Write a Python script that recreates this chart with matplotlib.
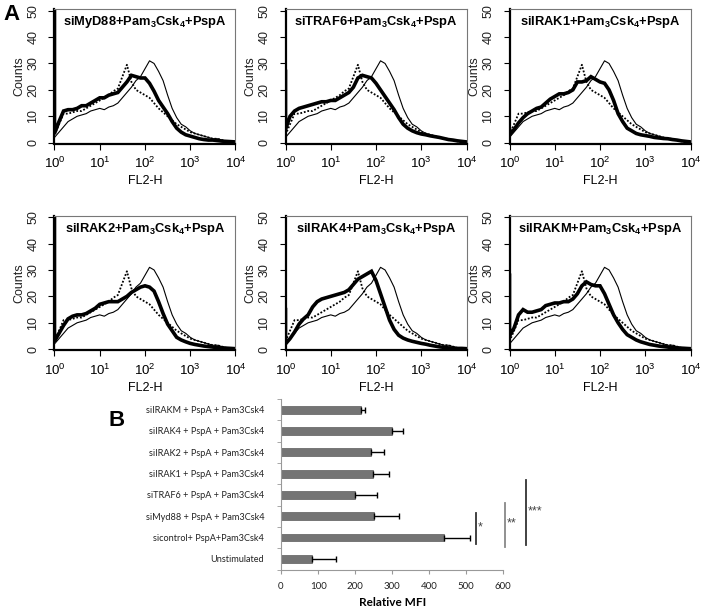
import numpy as np
import matplotlib
matplotlib.use("Agg")
import matplotlib.pyplot as plt

plt.rcParams['font.family'] = ['Liberation Sans', 'DejaVu Sans']
plt.rcParams['mathtext.fontset'] = 'custom'
plt.rcParams['mathtext.rm'] = 'Liberation Sans:bold'
plt.rcParams['mathtext.default'] = 'rm'

# ---- panel A: flow histograms (counts vs FL2-H, bins every 0.1 decade) ----
log_bins = np.round(np.arange(0, 4.01, 0.1), 1)

control_thin = [2, 4, 6, 8, 9, 10, 10.5, 11, 12, 12.5, 13, 12.5, 13.5, 14, 15, 17, 19, 21,
                23.5, 25, 28, 31, 30, 27, 23.5, 18, 13, 9.5, 7, 6, 4.5, 3.5, 3, 2.5, 2,
                1.5, 1.5, 1, 0.5, 0.5, 0]
control_dot = [3, 7, 11, 11, 11.5, 12, 12, 13, 14, 15, 16, 17, 18, 19.5, 20.5, 25, 29.5,
               23, 20, 19, 18, 17, 15, 13, 11.5, 10, 8.5, 7, 6, 5, 4, 3.5, 3, 2.5, 2,
               1.5, 1.5, 1, 0.5, 0.5, 0]

titles = ['siMyD88', 'siTRAF6', 'siIRAK1', 'siIRAK2', 'siIRAK4', 'siIRAKM']
first_bin = [60, 27, 5, 60, 15, 28]
thick = [
    [3.5, 8, 12, 12.5, 12.5, 13, 14, 14, 15, 16, 17, 17, 18, 18.5, 19, 21, 23, 25.5, 25,
     24.5, 24.5, 22.5, 19.5, 16, 13.5, 11, 8, 5.5, 4, 3, 2.5, 2, 1.5, 1.2, 1, 1, 0.8,
     0.6, 0.5, 0.4, 0.3],
    [5, 10, 12, 13, 13.5, 14, 14.5, 15, 15.5, 15.5, 16, 16, 17, 18, 19, 21, 24.5, 25.5,
     25, 24.5, 22.5, 20, 17.5, 15, 12.5, 9.5, 7, 5.5, 4.5, 3.8, 3.3, 3, 2.6, 2.3, 2,
     1.6, 1.2, 1, 0.7, 0.5, 0.3],
    [3, 5, 7.5, 9.5, 11, 12, 13, 13.5, 15, 16.5, 17.5, 18.5, 18.5, 19, 20, 23, 23, 23.5,
     25, 24, 23, 22.5, 20, 16, 11, 8, 5.5, 4.5, 3.5, 3, 2.7, 2.4, 2, 1.8, 1.6, 1.5,
     1.2, 1, 0.7, 0.5, 0.3],
    [3, 6, 9, 11.5, 12.5, 13, 13, 13.5, 14.5, 15.5, 17, 17.5, 18, 18, 18, 19, 20, 21.5,
     22.5, 23.5, 24, 23.5, 22, 18, 13.5, 9.5, 7, 4.5, 3.5, 2.8, 2.2, 1.8, 1.5, 1.2, 1,
     0.8, 0.6, 0.5, 0.4, 0.3, 0.2],
    [2, 4, 6.5, 9.5, 11.5, 13, 16, 18, 19, 19.5, 20, 20.5, 21, 21.5, 22.5, 24.5, 26.5,
     27.5, 28.5, 29.5, 26, 21, 16, 11, 7.5, 5.3, 4.2, 3.5, 3, 2.6, 2.2, 1.9, 1.5, 1.2,
     0.9, 0.7, 0.5, 0.4, 0.3, 0.3, 0.2],
    [5, 8, 13, 15, 14, 14, 14.5, 15, 16.5, 17, 17.5, 17.5, 18, 18, 19, 21, 24, 25.5,
     24.5, 24, 24, 21, 17, 13, 10, 7.5, 5.5, 4.5, 3.5, 2.8, 2.3, 1.8, 1.5, 1.2, 1, 0.8,
     0.6, 0.5, 0.4, 0.3, 0.2],
]

# ---- panel B: relative MFI bars ----
groups = ['Unstimulated', 'sicontrol+ PspA+Pam3Csk4', 'siMyd88 + PspA + Pam3Csk4',
          'siTRAF6 + PspA + Pam3Csk4', 'siIRAK1 + PspA + Pam3Csk4',
          'siIRAK2 + PspA + Pam3Csk4', 'siIRAK4 + PspA + Pam3Csk4',
          'siIRAKM + PspA + Pam3Csk4']
mfi = [85, 441, 252, 200, 249, 242, 299, 215]
mfi_err = [64, 68, 66, 60, 42, 37, 30, 12]
sig_labels = ['*', '**', '***']
sig_x = [526, 604, 662]
sig_span = [(0.69, 2.16), (0.56, 2.63), (0.64, 3.69)]

W, H = 704, 616
fig = plt.figure(figsize=(W / 100, H / 100), dpi=100)

lefts = [54.5, 285.5, 509.5]
bottoms = [143.5, 350]
ax_w, ax_h = 181, 134.2

fl2 = 10 ** log_bins
for i, name in enumerate(titles):
    r, c = divmod(i, 3)
    ax = fig.add_axes([lefts[c] / W, 1 - bottoms[r] / H, ax_w / W, ax_h / H])
    ax.plot(fl2, control_thin, color='black', lw=0.8)
    ax.plot(fl2, control_dot, color='black', lw=1.3, ls=(0, (1, 1)))
    ax.plot(np.r_[1, fl2], np.r_[first_bin[i], thick[i]], color='black', lw=2.6,
            solid_joinstyle='miter')
    ax.set_xscale('log')
    ax.set_xlim(1, 1e4)
    ax.set_ylim(-0.3, 50.5)
    ax.set_yticks([0, 10, 20, 30, 40, 50])
    ax.tick_params(axis='y', labelrotation=90, length=4, pad=7, labelsize=9,
                   labelcolor='#222222')
    for lab in ax.get_yticklabels():
        lab.set_va('center')
    ax.tick_params(axis='x', which='major', length=4, pad=5, labelsize=9.5)
    ax.tick_params(axis='x', which='minor', length=2.5)
    ax.set_xticks([1, 10, 100, 1000, 10000])
    for s in ['left', 'bottom']:
        ax.spines[s].set_linewidth(1.6)
    for s in ['top', 'right']:
        ax.spines[s].set_linewidth(0.8)
        ax.spines[s].set_color('#777777')
    ax.set_xlabel('FL2-H', fontsize=9, labelpad=3)
    ax.set_ylabel('Counts', fontsize=9, labelpad=1, color='#222222')
    ax.text(0.5, 0.905, name + r'+Pam$_3$Csk$_4$+PspA', transform=ax.transAxes,
            ha='center', va='center', fontsize=9.3, fontweight='bold')

fig.text(12 / W, 1 - 15 / H, 'A', fontsize=16, fontweight='bold', ha='center', va='center')
fig.text(117 / W, 1 - 420 / H, 'B', fontsize=16, fontweight='bold', ha='center', va='center')

# ---- panel B drawing ----
axb = fig.add_axes([281 / W, 1 - 569.5 / H, 222.3 / W, 170.5 / H])
ypos = np.arange(len(groups))
axb.barh(ypos, mfi, height=0.37, color='#747474', edgecolor='#5c5c5c', lw=0.5)
axb.errorbar(mfi, ypos, xerr=[np.zeros(len(mfi)), mfi_err], fmt='none', ecolor='black',
             elinewidth=1, capsize=2, capthick=1)
axb.set_xlim(0, 600)
axb.set_ylim(-0.5, 7.5)
axb.set_xticks(range(0, 601, 100))
axb.set_yticks(ypos)
axb.set_yticklabels(groups, family=['Lato', 'DejaVu Sans'], fontsize=6.6)
axb.set_yticks(np.arange(-0.5, 8, 1), minor=True)
axb.tick_params(axis='y', which='major', length=0, pad=12, labelcolor='#222222')
axb.tick_params(axis='y', which='minor', length=3, color='#999999')
axb.tick_params(axis='x', length=3, color='#999999', labelsize=7, pad=6,
                labelcolor='#222222')
for lab in axb.get_xticklabels():
    lab.set_family(['Lato', 'DejaVu Sans'])
for s in ['top', 'right']:
    axb.spines[s].set_visible(False)
for s in ['left', 'bottom']:
    axb.spines[s].set_color('#999999')
    axb.spines[s].set_linewidth(0.8)
axb.set_xlabel('Relative MFI', family=['Lato', 'DejaVu Sans'], fontsize=8.5,
               fontweight='bold', labelpad=4)

sig_colors = ['#333333', '#888888', '#333333']
for lab, xv, (y0, y1), col in zip(sig_labels, sig_x, sig_span, sig_colors):
    axb.plot([xv, xv], [y0, y1], color=col, lw=1.3, clip_on=False)
    axb.text(xv + 5, (y0 + y1) / 2 + 0.05, lab, fontsize=9, color='#444444',
             va='center', ha='left', clip_on=False)

fig.savefig('out.png', dpi=100)
